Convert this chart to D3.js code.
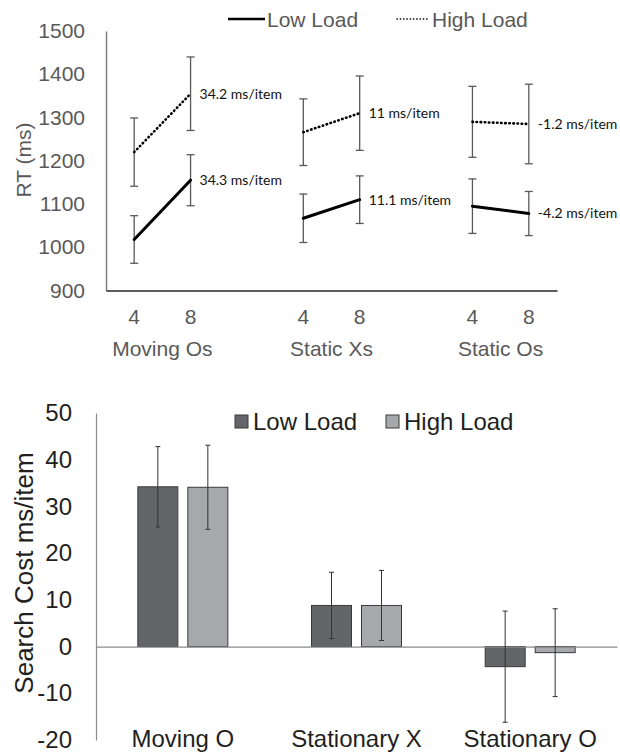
<!DOCTYPE html>
<html>
<head>
<meta charset="utf-8">
<script src="https://cdn.jsdelivr.net/npm/d3@7"></script>
<style>
  body { margin: 0; background: #fff; }
  svg { display: block; }
</style>
</head>
<body>
<div id="chart"></div>
<script>
// top panel: RT by set size
const groups = ["Moving Os", "Static Xs", "Static Os"];
const setSizes = ["4", "8"];
const lowRT = [[1018, 1155], [1067, 1110], [1095, 1078]];
const lowRTErr = [[55, 59], [56, 55], [63, 51]];
const highRT = [[1220, 1355], [1266, 1310], [1290, 1285]];
const highRTErr = [[79, 85], [77, 86], [82, 92]];
const lowSlopeLabels = ["34.3 ms/item", "11.1 ms/item", "-4.2 ms/item"];
const highSlopeLabels = ["34.2 ms/item", "11 ms/item", "-1.2 ms/item"];
const rtTicks = [900, 1000, 1100, 1200, 1300, 1400, 1500];

// bottom panel: search cost
const costCategories = ["Moving O", "Stationary X", "Stationary O"];
const lowCost = [34.2, 8.8, -4.3];
const lowCostErr = [8.6, 7.1, 11.9];
const highCost = [34.1, 8.8, -1.3];
const highCostErr = [9.0, 7.5, 9.4];
const costTicks = [-20, -10, 0, 10, 20, 30, 40, 50];

const grey = "#595959";
const ink = "#231f20";
const sans = "'Liberation Sans', Arial, sans-serif";

let svg = d3.select("#chart").append("svg")
    .attr("width", 620)
    .attr("height", 752);

// ---------- top chart ----------
let slots = [];
groups.forEach(function(g, i) {
    setSizes.forEach(function(s) { slots.push(g + "|" + s); });
    if (i < groups.length - 1) slots.push("gap" + i);
});

let x = d3.scaleBand()
    .domain(slots)
    .range([106, 557]);

let y = d3.scaleLinear()
    .domain([900, 1500])
    .range([290.5, 31]);

let cx = function(g, s) { return x(g + "|" + s) + x.bandwidth() / 2; };

let topG = svg.append("g");

// y axis
let yAxis = topG.append("g")
    .attr("transform", "translate(106,0)")
    .call(d3.axisLeft(y).tickValues(rtTicks).tickSize(0).tickPadding(21)
        .tickFormat(function(d) { return String(d); }));
yAxis.select(".domain").attr("stroke", "#7f7f7f").attr("stroke-width", 1.5);
yAxis.selectAll("text")
    .attr("fill", grey)
    .style("font-family", sans).style("font-size", "21px");

// x axis
let xAxis = topG.append("g")
    .attr("transform", "translate(0,290.5)")
    .call(d3.axisBottom(x).tickSize(0).tickPadding(19)
        .tickFormat(function(d) { return d.startsWith("gap") ? "" : d.split("|")[1]; }));
xAxis.select(".domain").attr("stroke", "#262626").attr("stroke-width", 1.5);
xAxis.selectAll("text")
    .attr("fill", grey)
    .style("font-family", sans).style("font-size", "21px");

// group labels
topG.selectAll(".grp")
    .data(groups)
    .enter().append("text")
    .attr("x", function(d) { return (cx(d, "4") + cx(d, "8")) / 2; })
    .attr("y", 356)
    .attr("text-anchor", "middle")
    .attr("fill", grey)
    .style("font-family", sans).style("font-size", "21px")
    .text(function(d) { return d; });

// y title
topG.append("text")
    .attr("transform", "translate(31,160) rotate(-90)")
    .attr("text-anchor", "middle")
    .attr("fill", grey)
    .style("font-family", sans).style("font-size", "21px")
    .text("RT (ms)");

function drawSeries(vals, errs, labels, dash, width) {
    groups.forEach(function(g, i) {
        let pts = setSizes.map(function(s, j) { return [cx(g, s), vals[i][j], errs[i][j]]; });

        // error bars
        pts.forEach(function(p) {
            let e = topG.append("g").attr("stroke", grey).attr("stroke-width", 1.3);
            e.append("line").attr("x1", p[0]).attr("x2", p[0])
                .attr("y1", y(p[1] - p[2])).attr("y2", y(p[1] + p[2]));
            e.append("line").attr("x1", p[0] - 4).attr("x2", p[0] + 4)
                .attr("y1", y(p[1] - p[2])).attr("y2", y(p[1] - p[2]));
            e.append("line").attr("x1", p[0] - 4).attr("x2", p[0] + 4)
                .attr("y1", y(p[1] + p[2])).attr("y2", y(p[1] + p[2]));
        });

        topG.append("path")
            .datum(pts)
            .attr("fill", "none")
            .attr("stroke", "#000")
            .attr("stroke-width", width)
            .attr("stroke-linecap", "round")
            .attr("stroke-dasharray", dash)
            .attr("d", d3.line()
                .x(function(d) { return d[0]; })
                .y(function(d) { return y(d[1]); }));

        topG.append("text")
            .attr("x", pts[1][0] + 9)
            .attr("y", y(pts[1][1]))
            .attr("dy", "0.35em")
            .attr("fill", "#111")
            .style("font-family", "Lato, 'Open Sans', sans-serif").style("font-size", "14px")
            .text(labels[i]);
    });
}

drawSeries(lowRT, lowRTErr, lowSlopeLabels, null, 3);
drawSeries(highRT, highRTErr, highSlopeLabels, "0.5,3.6", 2.6);

// top legend
topG.append("line")
    .attr("x1", 228).attr("x2", 265).attr("y1", 19).attr("y2", 19)
    .attr("stroke", "#000").attr("stroke-width", 2.5);
topG.append("text")
    .attr("x", 267).attr("y", 26.5)
    .attr("fill", grey)
    .style("font-family", sans).style("font-size", "21px")
    .text("Low Load");
topG.append("line")
    .attr("x1", 397).attr("x2", 428).attr("y1", 19).attr("y2", 19)
    .attr("stroke", "#000").attr("stroke-width", 1.6)
    .attr("stroke-linecap", "round")
    .attr("stroke-dasharray", "0.3,3");
topG.append("text")
    .attr("x", 432).attr("y", 26.5)
    .attr("fill", grey)
    .style("font-family", sans).style("font-size", "21px")
    .text("High Load");

// ---------- bottom chart ----------
let bx = d3.scaleBand()
    .domain(costCategories)
    .range([96, 617]);

let inner = d3.scaleBand()
    .domain(["low", "high"])
    .range([0, 90])
    .paddingInner(0.2);

let by = d3.scaleLinear()
    .domain([-20, 50])
    .range([740, 413]);

let bottomG = svg.append("g");

let byAxis = bottomG.append("g")
    .attr("transform", "translate(96,0)")
    .call(d3.axisLeft(by).tickValues(costTicks).tickSize(0).tickPadding(24)
        .tickFormat(function(d) { return String(d); }));
byAxis.select(".domain").attr("stroke", "#8a8a8a").attr("stroke-width", 1.2);
byAxis.selectAll("text")
    .attr("fill", ink)
    .style("font-family", sans).style("font-size", "24px");

let barData = [];
costCategories.forEach(function(c, i) {
    barData.push({ cat: c, key: "low", v: lowCost[i], e: lowCostErr[i] });
    barData.push({ cat: c, key: "high", v: highCost[i], e: highCostErr[i] });
});

let bxPos = function(d) { return bx(d.cat) + bx.bandwidth() / 2 - 45 + inner(d.key); };

bottomG.selectAll(".bar")
    .data(barData)
    .enter().append("rect")
    .attr("x", bxPos)
    .attr("y", function(d) { return by(Math.max(0, d.v)); })
    .attr("width", inner.bandwidth())
    .attr("height", function(d) { return Math.abs(by(d.v) - by(0)); })
    .attr("fill", function(d) { return d.key === "low" ? "#646569" : "#a7a8ab"; })
    .attr("stroke", "#3a3a3a")
    .attr("stroke-width", 1);

// zero line
bottomG.append("g")
    .attr("transform", "translate(0," + by(0) + ")")
    .call(d3.axisBottom(bx).tickSize(0).tickFormat(""))
    .select(".domain").attr("stroke", "#8a8a8a").attr("stroke-width", 1.2);

// error bars
barData.forEach(function(d) {
    let mx = bxPos(d) + inner.bandwidth() / 2;
    let e = bottomG.append("g").attr("stroke", "#333").attr("stroke-width", 1);
    e.append("line").attr("x1", mx).attr("x2", mx)
        .attr("y1", by(d.v - d.e)).attr("y2", by(d.v + d.e));
    e.append("line").attr("x1", mx - 2.5).attr("x2", mx + 2.5)
        .attr("y1", by(d.v - d.e)).attr("y2", by(d.v - d.e));
    e.append("line").attr("x1", mx - 2.5).attr("x2", mx + 2.5)
        .attr("y1", by(d.v + d.e)).attr("y2", by(d.v + d.e));
});

bottomG.selectAll(".cat")
    .data(costCategories)
    .enter().append("text")
    .attr("x", function(d) { return bx(d) + bx.bandwidth() / 2; })
    .attr("y", 747)
    .attr("text-anchor", "middle")
    .attr("fill", ink)
    .style("font-family", sans).style("font-size", "24px")
    .text(function(d) { return d; });

bottomG.append("text")
    .attr("transform", "translate(33,573) rotate(-90)")
    .attr("text-anchor", "middle")
    .attr("fill", ink)
    .style("font-family", sans).style("font-size", "26px")
    .text("Search Cost ms/item");

// bottom legend
let legendItems = [
    { label: "Low Load", fill: "#646569", x: 235 },
    { label: "High Load", fill: "#a7a8ab", x: 386 }
];
legendItems.forEach(function(l) {
    bottomG.append("rect")
        .attr("x", l.x).attr("y", 415)
        .attr("width", 13).attr("height", 13)
        .attr("fill", l.fill)
        .attr("stroke", "#3a3a3a");
    bottomG.append("text")
        .attr("x", l.x + 18).attr("y", 430)
        .attr("fill", ink)
        .style("font-family", sans).style("font-size", "24px")
        .text(l.label);
});
</script>
</body>
</html>
